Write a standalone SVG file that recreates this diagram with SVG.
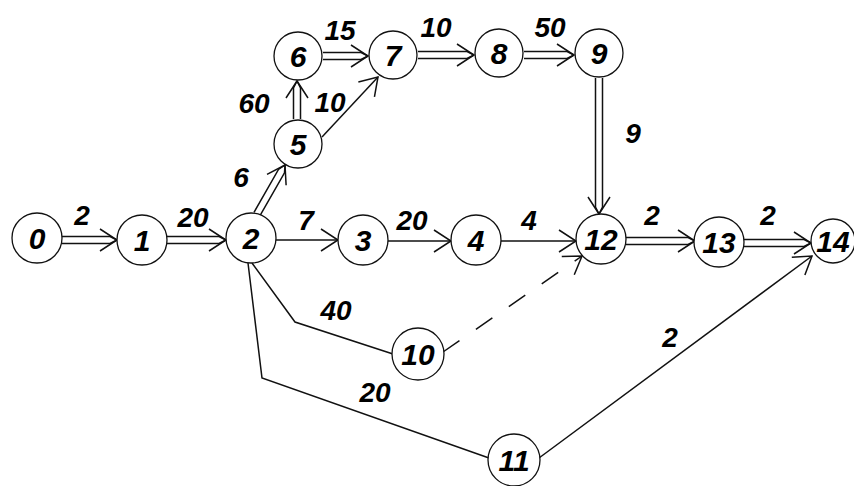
<svg xmlns="http://www.w3.org/2000/svg" width="854" height="486" viewBox="0 0 854 486">
  <style>
    .bg { fill: #ffffff; }
    .ln { fill: none; stroke: #111; stroke-width: 1.5; stroke-linejoin: miter; }
    .dash { stroke-dasharray: 20 20; }
    .axis { fill: none; stroke: none; }
    .node circle { fill: #ffffff; stroke: #111; stroke-width: 1.3; }
    .node text { font-family: "Liberation Sans", Arial, sans-serif; font-weight: bold; font-style: italic; font-size: 30px; text-anchor: middle; fill: #000; }
    .lbl { font-family: "Liberation Sans", Arial, sans-serif; font-weight: bold; font-style: italic; font-size: 28px; text-anchor: middle; fill: #000; }
  </style>
  <defs>
    <marker id="vee" markerUnits="userSpaceOnUse" markerWidth="40" markerHeight="40" refX="0" refY="0" orient="auto" style="overflow:visible">
      <path d="M-17,-11 L0,0 L-17,11" fill="none" stroke="#111" stroke-width="1.5"/>
    </marker>
  </defs>
  <rect class="bg" x="0" y="0" width="854" height="486"/>

  <g id="connectors">
    <!-- double-line arrows (critical path) -->
    <g id="e0-1"><path class="ln" d="M62,236.5 H110 L117,240 M62,243.5 H110 L117,240"/><path class="axis" d="M62,240 L117,240" marker-end="url(#vee)"/></g>
    <g id="e1-2"><path class="ln" d="M167,236.5 H219 L226,240 M167,243.5 H219 L226,240"/><path class="axis" d="M167,240 L226,240" marker-end="url(#vee)"/></g>
    <g id="e2-5"><path class="ln" d="M260,215.7 L284.5,172.8 L285,165 M254,212.3 L278.5,169.4 L285,165"/><path class="axis" d="M257,214 L285,165" marker-end="url(#vee)"/></g>
    <g id="e5-6"><path class="ln" d="M293.5,119 V88 L297,81 M300.5,119 V88 L297,81"/><path class="axis" d="M297,119 L297,81" marker-end="url(#vee)"/></g>
    <g id="e6-7"><path class="ln" d="M323,52.5 H361 L368,56 M323,59.5 H361 L368,56"/><path class="axis" d="M323,56 L368,56" marker-end="url(#vee)"/></g>
    <g id="e7-8"><path class="ln" d="M418,51.5 H467 L474,55 M418,58.5 H467 L474,55"/><path class="axis" d="M418,55 L474,55" marker-end="url(#vee)"/></g>
    <g id="e8-9"><path class="ln" d="M524,51.5 H567 L574,55 M524,58.5 H567 L574,55"/><path class="axis" d="M524,55 L574,55" marker-end="url(#vee)"/></g>
    <g id="e9-12"><path class="ln" d="M595.5,78 V207 L599,214 M602.5,78 V207 L599,214"/><path class="axis" d="M599,78 L599,214" marker-end="url(#vee)"/></g>
    <g id="e12-13"><path class="ln" d="M626,237.5 H688 L695,241 M626,244.5 H688 L695,241"/><path class="axis" d="M626,241 L695,241" marker-end="url(#vee)"/></g>
    <g id="e13-14"><path class="ln" d="M744,239.5 H804 L811,243 M744,246.5 H804 L811,243"/><path class="axis" d="M744,243 L811,243" marker-end="url(#vee)"/></g>

    <!-- single-line arrows -->
    <path id="e2-3" class="ln" d="M276,240 L338,240" marker-end="url(#vee)"/>
    <path id="e3-4" class="ln" d="M388,241 L451,241" marker-end="url(#vee)"/>
    <path id="e4-12" class="ln" d="M501,241 L576,241" marker-end="url(#vee)"/>
    <path id="e5-7" class="ln" d="M322,137 L378,77" marker-end="url(#vee)"/>
    <path id="e10-12" class="ln dash" d="M443,352 L582,256" marker-end="url(#vee)"/>
    <path id="e11-14" class="ln" d="M539,458 L812,256" marker-end="url(#vee)"/>

    <!-- bent links without heads -->
    <path id="e2-10" class="ln" d="M252,263 L295,322 L393,354"/>
    <path id="e2-11" class="ln" d="M248,263 L262,378 L489,458"/>
  </g>

  <g id="labels">
    <text class="lbl" x="82" y="225">2</text>
    <text class="lbl" x="193" y="227">20</text>
    <text class="lbl" x="241" y="187">6</text>
    <text class="lbl" x="254" y="113">60</text>
    <text class="lbl" x="330" y="112">10</text>
    <text class="lbl" x="340" y="40">15</text>
    <text class="lbl" x="436" y="37">10</text>
    <text class="lbl" x="550" y="37">50</text>
    <text class="lbl" x="633" y="143">9</text>
    <text class="lbl" x="306" y="230">7</text>
    <text class="lbl" x="412" y="230">20</text>
    <text class="lbl" x="529" y="230">4</text>
    <text class="lbl" x="652" y="225">2</text>
    <text class="lbl" x="768" y="225">2</text>
    <text class="lbl" x="336" y="320">40</text>
    <text class="lbl" x="375" y="402">20</text>
    <text class="lbl" x="670" y="347">2</text>
  </g>

  <g id="n0" class="node"><circle cx="37" cy="238" r="25"/><text x="37" y="249">0</text></g>
  <g id="n1" class="node"><circle cx="142" cy="240" r="25"/><text x="142" y="251">1</text></g>
  <g id="n2" class="node"><circle cx="251" cy="238" r="25"/><text x="251" y="249">2</text></g>
  <g id="n3" class="node"><circle cx="363" cy="240" r="25"/><text x="363" y="251">3</text></g>
  <g id="n4" class="node"><circle cx="476" cy="240" r="25"/><text x="476" y="251">4</text></g>
  <g id="n5" class="node"><circle cx="298" cy="144" r="24"/><text x="298" y="155">5</text></g>
  <g id="n6" class="node"><circle cx="298" cy="56" r="24"/><text x="298" y="67">6</text></g>
  <g id="n7" class="node"><circle cx="393" cy="55" r="24"/><text x="393" y="66">7</text></g>
  <g id="n8" class="node"><circle cx="499" cy="53" r="24"/><text x="499" y="64">8</text></g>
  <g id="n9" class="node"><circle cx="599" cy="53" r="24"/><text x="599" y="64">9</text></g>
  <g id="n10" class="node"><circle cx="418" cy="354" r="26"/><text x="418" y="365">10</text></g>
  <g id="n11" class="node"><circle cx="514" cy="460" r="26"/><text x="514" y="471">11</text></g>
  <g id="n12" class="node"><circle cx="601" cy="239" r="25"/><text x="601" y="250">12</text></g>
  <g id="n13" class="node"><circle cx="719" cy="242" r="25"/><text x="719" y="253">13</text></g>
  <g id="n14" class="node"><circle cx="833" cy="241" r="22"/><text x="833" y="252">14</text></g>
</svg>
